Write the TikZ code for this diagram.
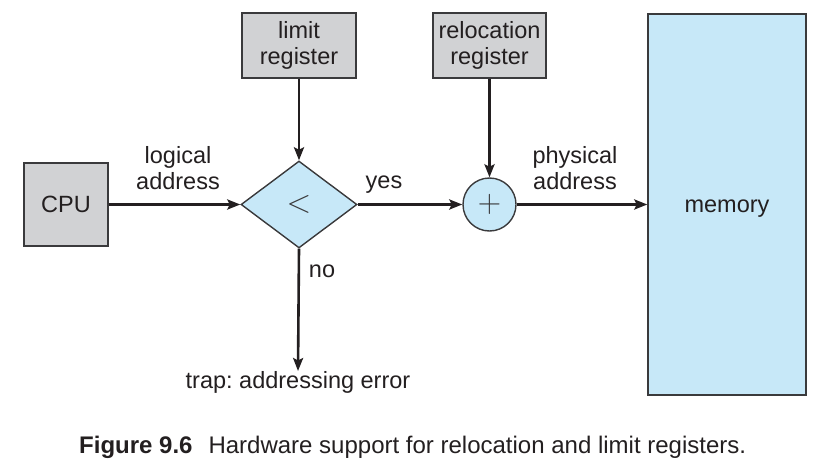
\documentclass[tikz,border=0pt]{standalone}
\usepackage{fontspec}
\usepackage{graphicx}
\setmainfont{Liberation Sans}
\frenchspacing
\usetikzlibrary{shapes.geometric,arrows.meta}
\definecolor{ink}{HTML}{231F20}
\definecolor{boxgray}{HTML}{D1D2D4}
\definecolor{boxblue}{HTML}{C7E8F8}
\definecolor{edge}{HTML}{3A3A3C}
\tikzset{
  base/.style={font=\fontsize{23.5}{26}\selectfont, text=ink},
  graybox/.style={base, draw=edge, line width=1.4pt, fill=boxgray, rectangle, inner sep=0pt, align=center},
  bluebox/.style={base, draw=edge, line width=1.4pt, fill=boxblue, inner sep=0pt, align=center},
  conn/.style={draw=ink, line width=2.6pt, -{Stealth[length=13pt,width=10pt,inset=2.5pt]}},
  lbl/.style={base, align=center, inner sep=0pt},
  opsym/.style={text=edge, inner sep=0pt}
}
\begin{document}
\frenchspacing
\begin{tikzpicture}[x=1pt,y=-1pt]
\useasboundingbox (0,0) rectangle (835,474);
\node[graybox, minimum width=84pt, minimum height=83pt] (cpu) at (66,204.5) {CPU};
\node[graybox, minimum width=114pt, minimum height=65pt] (limit) at (299,45.5) {limit\\register};
\node[graybox, minimum width=113pt, minimum height=65pt] (reloc) at (489.5,45.5) {relocation\\register};
\node[bluebox, shape=diamond, minimum width=116pt, minimum height=87pt] (cmp) at (299,204.5) {};
\node[opsym] (cmpl) at (299,204.5) {\scalebox{1.3}{\fontsize{24}{24}\selectfont$<$}};
\node[bluebox, shape=circle, minimum size=53pt] (add) at (489.5,204.5) {};
\node[opsym] (addl) at (489.5,204.5) {\scalebox{1.3}{\fontsize{24}{24}\selectfont$+$}};
\node[bluebox, rectangle, minimum width=158pt, minimum height=381pt] (mem) at (727,204.5) {};
\node[lbl] (meml) at (727,209) {memory};
\node[lbl, anchor=north] (trap) at (298,371) {trap: addressing error};
\node[lbl] (logl) at (178,168) {logical\\address};
\node[lbl] (physl) at (575,168) {physical\\address};
\node[lbl] (yesl) at (384,185) {yes};
\node[lbl] (nol) at (322,271) {no};
\draw[conn] (cpu.east) -- (cmp.west);
\draw[conn] (limit.south) -- (cmp.north);
\draw[conn] (cmp.east) -- (add.west);
\draw[conn] (reloc.south) -- (add.north);
\draw[conn] (add.east) -- (mem.west);
\draw[conn] (cmp.south) -- (trap.north);
\node[base, anchor=west, inner sep=0pt, font=\fontsize{24}{28}\selectfont] (cap) at (79,447) {\textbf{Figure 9.6}\hspace{16pt}Hardware support for relocation and limit registers.};
\end{tikzpicture}
\end{document}
